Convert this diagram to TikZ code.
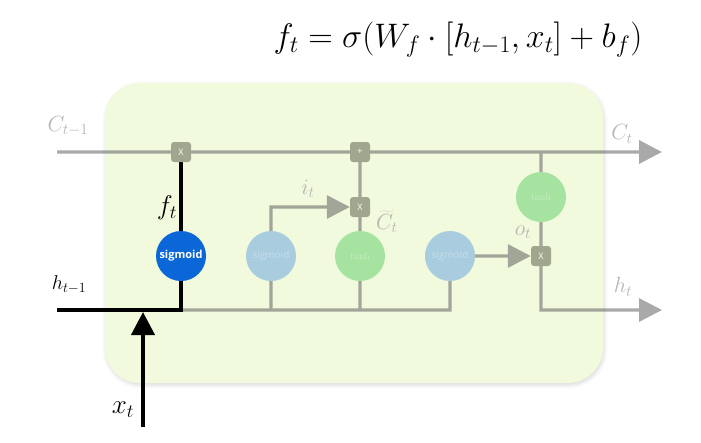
\RequirePackage{fix-cm}
\documentclass[tikz,border=0pt]{standalone}
\usepackage{fontspec}
\setsansfont{Open Sans}
\usetikzlibrary{arrows.meta,shadows.blur}
\pgfdeclarelayer{bg}
\pgfdeclarelayer{lines}
\pgfsetlayers{bg,lines,main}
\definecolor{cellbg}{HTML}{F1FADC}
\definecolor{sigblue}{HTML}{0B66D8}
\definecolor{paleblue}{HTML}{A9CCDF}
\definecolor{palegreen}{HTML}{A6E3A1}
\definecolor{gategray}{HTML}{A1A68E}
\definecolor{linegray}{HTML}{626262}
\definecolor{labelgray}{HTML}{B5B5B5}
\tikzset{>={Triangle[length=23pt,width=23pt]},
  gline/.style={draw=linegray,line width=3.3pt},
  bline/.style={draw=black,line width=4pt},
  unit/.style={circle,minimum size=50pt,inner sep=0pt,text=white,font=\sffamily\fontsize{10}{12}\selectfont},
  faded/.style={text opacity=0.35},
  gate/.style={fill=gategray,rounded corners=3pt,minimum size=20pt,inner sep=0pt,text=white,font=\sffamily\fontsize{9}{10}\selectfont},
  glabel/.style={text=labelgray,inner sep=1pt,font=\fontsize{22}{25}\selectfont},
  blabel/.style={inner sep=1pt,font=\fontsize{27}{30}\selectfont}}
\begin{document}
\begin{tikzpicture}[x=1pt,y=-1pt]
\useasboundingbox (0,0) rectangle (701,442);
\begin{pgfonlayer}{bg}
\fill[cellbg,rounded corners=35pt,blur shadow={shadow xshift=1pt,shadow yshift=-2pt,shadow blur radius=4pt,shadow opacity=15}] (105,83) rectangle (603,383);
\end{pgfonlayer}
\node[unit,fill=sigblue,font=\sffamily\bfseries\fontsize{11}{13}\selectfont] (sigF) at (181,256) {sigmoid};
\node[unit,faded,fill=paleblue] (sigI) at (271,256) {sigmoid};
\node[unit,faded,fill=palegreen,font=\fontsize{10}{12}\selectfont] (tanhC) at (360,256) {tanh};
\node[unit,faded,fill=paleblue] (sigO) at (450,256) {sigmoid};
\node[unit,faded,fill=palegreen,font=\fontsize{10}{12}\selectfont] (tanhH) at (541,197) {tanh};
\node[gate] (mulF) at (181,152) {X};
\node[gate] (addC) at (360,152) {+};
\node[gate] (mulI) at (360,207) {X};
\node[gate] (mulO) at (541,256) {X};
\coordinate (cin) at (57,152);
\coordinate (cout) at (662,152);
\coordinate (hin) at (57,310);
\coordinate (hout) at (662,310);
\coordinate (xin) at (143,427);
\coordinate (xtop) at (143,312);
\node[glabel] (lCin) at (68,126) {$C_{t-1}$};
\node[glabel] (lCout) at (622,134) {$C_t$};
\node[glabel] (lHout) at (623,287) {$h_t$};
\node[glabel] (lI) at (308,189) {$i_t$};
\node[glabel,anchor=west,inner sep=0pt] (lCt) at (376,222) {$\widetilde{C_t}$};
\node[glabel] (lO) at (523,232) {$o_t$};
\node[blabel] (lF) at (167,208) {$f_t$};
\node[blabel,font=\fontsize{20}{24}\selectfont] (lHin) at (69,285) {$h_{t-1}$};
\node[blabel] (lX) at (123,410) {$x_t$};
\node[font=\fontsize{34}{40}\selectfont] (eq) at (458,40) {$f_t = \sigma(W_f\cdot[h_{t-1},x_t]+b_f)$};
\begin{pgfonlayer}{lines}
\begin{scope}[transparency group,opacity=0.55]
\draw[gline,->] (cin) -- (cout);
\draw[gline] (sigF.south |- hin) -| (sigO.south);
\foreach \n in {sigI,tanhC}
\draw[gline] (\n.south) -- (\n.south |- hin);
\draw[gline,->] (sigI.north) |- (mulI.west);
\draw[gline] (tanhC.north) -- (mulI.south) (mulI.north) -- (addC.south);
\draw[gline,->] (sigO.east) -- (mulO.west);
\draw[gline] (tanhH.north) -- (tanhH.north |- cin) (tanhH.south) -- (mulO.north);
\draw[gline,->] (mulO.south) |- (hout);
\end{scope}
\draw[bline] (mulF.south) -- (sigF.north);
\draw[bline] (sigF.south) |- (hin);
\draw[bline,->] (xin) -- (xtop);
\end{pgfonlayer}
\end{tikzpicture}
\end{document}
